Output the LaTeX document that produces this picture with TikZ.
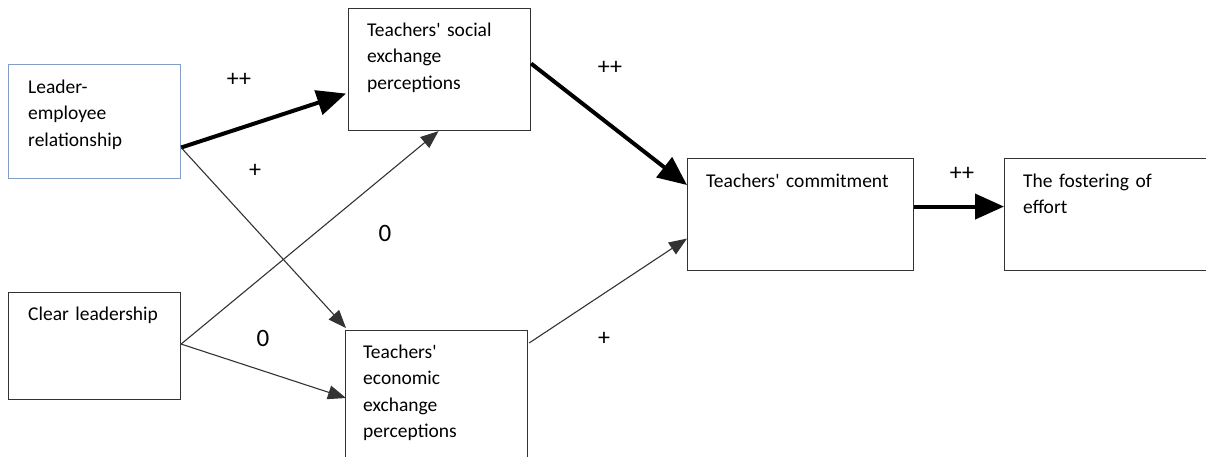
\documentclass[tikz,border=0pt]{standalone}
\usepackage{fontspec}
\setmainfont{Carlito}[Ligatures=TeXOff]
\usetikzlibrary{arrows.meta}

\definecolor{boxblue}{RGB}{130,158,198}
\definecolor{boxgray}{RGB}{50,50,50}

\begin{document}
\begin{tikzpicture}[x=1pt, y=-1pt,
  box/.style={draw=boxgray, line width=1.1pt, anchor=north west, inner sep=0pt},
  txt/.style={anchor=base west, inner sep=0pt, align=left, text width=200pt,
    font=\fontsize{19.5}{26.5}\selectfont},
  sign/.style={font=\fontsize{24}{26}\selectfont},
  zero/.style={font=\fontsize{25}{27}\selectfont},
  strong/.style={-{Triangle[length=29pt,width=25pt]}, line width=4pt},
  weak/.style={-{Triangle[length=18pt,width=14pt]}, line width=1.1pt, draw=black!80}]
  \clip (0,0) rectangle (1206,456);

  % boxes
  \node[box, draw=boxblue, minimum width=172pt, minimum height=114pt] (ler) at (8,64) {};
  \node[box, minimum width=172pt, minimum height=107pt] (cl) at (8,292) {};
  \node[box, minimum width=182pt, minimum height=122pt] (tse) at (348,8) {};
  \node[box, minimum width=182pt, minimum height=150pt] (tee) at (345,330) {};
  \node[box, minimum width=226pt, minimum height=112pt] (tc) at (687,158) {};
  \node[box, minimum width=230pt, minimum height=112pt] (tfe) at (1004,158) {};

  % texts
  \node[txt] (ler-t) at ([shift={(20,29)}]ler.north west) {Leader-\\employee\\relationship};
  \node[txt] (cl-t) at ([shift={(20,28)}]cl.north west) {Clear leadership};
  \node[txt] (tse-t) at ([shift={(19,28)}]tse.north west) {Teachers' social\\exchange\\perceptions};
  \node[txt] (tee-t) at ([shift={(18,28)}]tee.north west) {Teachers'\\economic\\exchange\\perceptions};
  \node[txt] (tc-t) at ([shift={(19,29)}]tc.north west) {Teachers' commitment};
  \node[txt] (tfe-t) at ([shift={(19,29)}]tfe.north west) {The fostering of\\effort};

  % start points
  \coordinate (ler-out) at ([shift={(0,26)}]ler.east);
  \coordinate (cl-out) at ([shift={(0,-2)}]cl.east);
  \coordinate (tse-out) at ([shift={(0,-6)}]tse.east);
  \coordinate (tee-out) at ([shift={(1,13)}]tee.north east);

  % paths
  \draw[strong] (ler-out) -- ([shift={(-2,24)}]tse.west);
  \draw[weak] (ler-out) -- ([shift={(1,-2)}]tee.north west);
  \draw[weak] (cl-out) -- ([xshift=-1]tse.south);
  \draw[weak] (cl-out) -- ([shift={(1,68)}]tee.north west);
  \draw[strong] (tse-out) -- ([shift={(0,27)}]tc.north west);
  \draw[weak] (tee-out) -- ([shift={(0,24)}]tc.west);
  \draw[strong] ([shift={(0,-8)}]tc.east) -- ([shift={(0,-8)}]tfe.west);

  % signs
  \node[sign] (s1) at (239,80) {++};
  \node[sign] (s2) at (255,171) {+};
  \node[zero] (s3) at (385,233) {0};
  \node[zero] (s4) at (263,338) {0};
  \node[sign] (s5) at (610,68) {++};
  \node[sign] (s6) at (604,339) {+};
  \node[sign] (s7) at (962,174) {++};
\end{tikzpicture}
\end{document}
